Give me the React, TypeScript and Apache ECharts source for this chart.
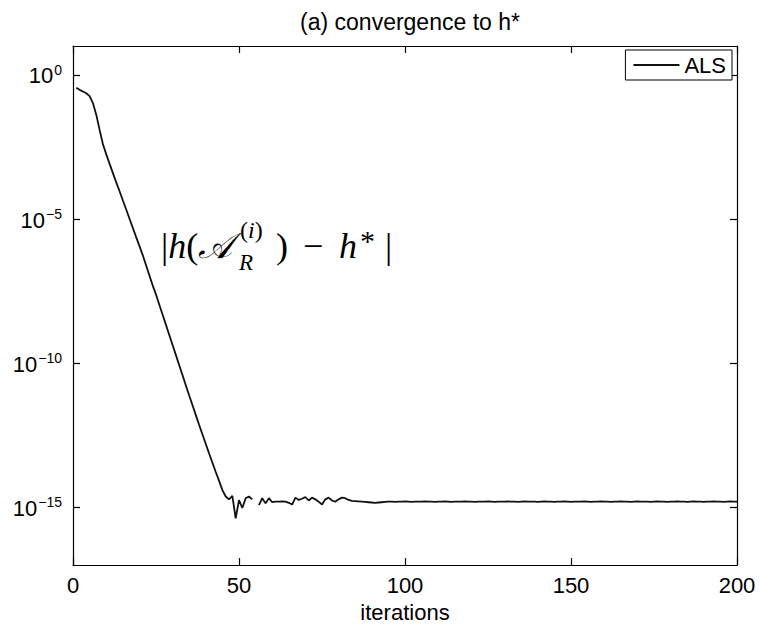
import React, { useEffect, useRef } from "react";
import * as echarts from "echarts";

// ---------- data (log10 of |h(A_R^(i)) - h*|), iteration numbers start at 1 ----------
const firstIteration = 1;
const logErrorHead: (number | null)[] = [
  -0.45, -0.52, -0.58, -0.64, -0.74, -0.98, -1.38, -1.9, -2.4, -2.75,
  -3.08, -3.4, -3.72, -4.03, -4.35, -4.66, -4.98, -5.3, -5.62, -5.93,
  -6.25, -6.6, -6.95, -7.3, -7.62, -7.97, -8.32, -8.67, -9.02, -9.37,
  -9.72, -10.07, -10.42, -10.77, -11.12, -11.46, -11.8, -12.14, -12.47, -12.8,
  -13.13, -13.45, -13.77, -14.08, -14.4, -14.62, -14.72, -14.6, -15.38, -14.75,
  -15.02, -14.68, -14.62, -14.72, null, -14.92, -14.68, -14.86, -14.68, -14.82,
  -14.8, -14.8, -14.79, -14.8, -14.84, -14.9, -14.66, -14.74, -14.7, -14.64,
  -14.76, -14.66, -14.72, -14.8, -14.9, -14.72, -14.66, -14.76, -14.8, -14.72,
  -14.66, -14.68, -14.74, -14.77, -14.78,
];
const logErrorTail: number[] = [
  -14.79, -14.8, -14.81, -14.82, -14.83, -14.84, -14.83, -14.82, -14.81, -14.8,
  -14.8, -14.81, -14.8, -14.8, -14.79, -14.8, -14.81, -14.8, -14.8, -14.8,
  -14.79, -14.8, -14.8, -14.81, -14.8, -14.8, -14.79, -14.8, -14.81, -14.8,
  -14.8, -14.8, -14.79, -14.8, -14.8, -14.81, -14.8, -14.8, -14.8, -14.79,
  -14.8, -14.81, -14.8, -14.8, -14.8, -14.79, -14.8, -14.8, -14.81, -14.8,
  -14.79, -14.8, -14.8, -14.8, -14.81, -14.8, -14.79, -14.8, -14.8, -14.81,
  -14.8, -14.8, -14.79, -14.8, -14.81, -14.8, -14.8, -14.8, -14.79, -14.8,
  -14.81, -14.8, -14.8, -14.79, -14.8, -14.8, -14.81, -14.8, -14.8, -14.79,
  -14.8, -14.8, -14.81, -14.8, -14.79, -14.8, -14.8, -14.8, -14.81, -14.8,
  -14.79, -14.8, -14.8, -14.81, -14.8, -14.8, -14.79, -14.8, -14.8, -14.81,
  -14.8, -14.79, -14.8, -14.8, -14.81, -14.8, -14.8, -14.79, -14.8, -14.8,
  -14.81, -14.8, -14.79, -14.8, -14.8,
];
const xTicks = [0, 50, 100, 150, 200];
const yTickExponents = [-15, -10, -5, 0];
const xRange = [0, 200];
const yRange = [-17, 1];
const seriesName = "ALS";
const chartTitle = "(a) convergence to h*";
const xAxisName = "iterations";

const SANS = '"Liberation Sans", Arial, Helvetica, sans-serif';
const SERIF = '"Liberation Serif", "DejaVu Serif", serif';

export default function App() {
  const ref = useRef<HTMLDivElement>(null);

  useEffect(() => {
    if (!ref.current) return;
    const chart = echarts.init(ref.current, undefined, { renderer: "svg" });
    const logError = [...logErrorHead, ...logErrorTail];
    const data = logError.map((v, i) => [i + firstIteration, v === null ? "-" : v]);

    const expLabel = (v: number) =>
      `{b|10}{s|${v < 0 ? "\u2212" + Math.abs(v) : String(v)}}`;

    const axisLineStyle = { color: "#000", width: 1.2 };
    const tickStyle = { color: "#000", width: 1.2 };

    const option: any = {
      animation: false,
      backgroundColor: "#fff",
      title: {
        text: chartTitle,
        left: 405,
        textAlign: "center",
        top: 5,
        textStyle: { fontFamily: SANS, fontSize: 23, fontWeight: "normal", color: "#000" },
      },
      legend: {
        data: [seriesName],
        right: 28,
        top: 50,
        icon: "rect",
        itemWidth: 46,
        itemHeight: 2,
        itemGap: 4,
        padding: [4, 6, 4, 8],
        borderColor: "#000",
        borderWidth: 1,
        borderRadius: 0,
        backgroundColor: "#fff",
        textStyle: { fontFamily: SANS, fontSize: 22, color: "#000", padding: [0, 0, 0, 0] },
      },
      grid: { left: 73, right: 23, top: 46, bottom: 56, containLabel: false },
      xAxis: [
        {
          type: "value",
          min: xRange[0],
          max: xRange[1],
          interval: 50,
          position: "bottom",
          name: xAxisName,
          nameLocation: "middle",
          nameGap: 30,
          nameTextStyle: { fontFamily: SANS, fontSize: 22, color: "#000" },
          axisLine: { show: true, onZero: false, lineStyle: axisLineStyle },
          axisTick: { show: true, inside: true, length: 7, lineStyle: tickStyle, customValues: xTicks },
          axisLabel: { fontFamily: SANS, fontSize: 22, color: "#000", margin: 9, customValues: xTicks },
          splitLine: { show: false },
        },
        {
          type: "value",
          min: xRange[0],
          max: xRange[1],
          interval: 50,
          position: "top",
          axisLine: { show: true, onZero: false, lineStyle: axisLineStyle },
          axisTick: { show: true, inside: true, length: 7, lineStyle: tickStyle, customValues: xTicks },
          axisLabel: { show: false },
          splitLine: { show: false },
        },
      ],
      yAxis: [
        {
          type: "value",
          min: yRange[0],
          max: yRange[1],
          position: "left",
          axisLine: { show: true, onZero: false, lineStyle: axisLineStyle },
          axisTick: { show: true, inside: true, length: 7, lineStyle: tickStyle, customValues: yTickExponents },
          axisLabel: {
            customValues: yTickExponents,
            margin: 11,
            formatter: expLabel,
            rich: {
              b: { fontFamily: SANS, fontSize: 22, color: "#000", lineHeight: 24, padding: [8, 0, 0, 0], verticalAlign: "bottom" },
              s: { fontFamily: SANS, fontSize: 14, color: "#000", lineHeight: 15, verticalAlign: "top", padding: [0, 0, 0, 1] },
            },
          },
          splitLine: { show: false },
        },
        {
          type: "value",
          min: yRange[0],
          max: yRange[1],
          position: "right",
          axisLine: { show: true, onZero: false, lineStyle: axisLineStyle },
          axisTick: { show: true, inside: true, length: 7, lineStyle: tickStyle, customValues: yTickExponents },
          axisLabel: { show: false },
          splitLine: { show: false },
        },
      ],
      series: [
        {
          name: seriesName,
          type: "line",
          xAxisIndex: 0,
          yAxisIndex: 0,
          data,
          symbol: "none",
          showSymbol: false,
          connectNulls: false,
          lineStyle: { color: "#111", width: 1.8 },
          itemStyle: { color: "#111" },
        },
      ],
      graphic: [
        {
          type: "text",
          x: 161,
          y: 246,
          style: {
            text: "{u||}{i|h}{u|(}{c|\uD835\uDC9C}",
            verticalAlign: "middle",
            textVerticalAlign: "middle",
            rich: {
              u: { font: `36px ${SERIF}`, fill: "#000" },
              i: { font: `italic 36px ${SERIF}`, fill: "#000" },
              c: { font: `italic 36px ${SERIF}`, fill: "#000" },
            },
          },
        },
        {
          type: "text",
          x: 240,
          y: 230,
          style: {
            text: "{u|(}{i|i}{u|)}",
            verticalAlign: "middle",
            textVerticalAlign: "middle",
            rich: {
              u: { font: `24px ${SERIF}`, fill: "#000" },
              i: { font: `italic 24px ${SERIF}`, fill: "#000" },
            },
          },
        },
        {
          type: "text",
          x: 239,
          y: 262,
          style: { text: "R", font: `italic 23px ${SERIF}`, fill: "#000", verticalAlign: "middle", textVerticalAlign: "middle" },
        },
        {
          type: "text",
          x: 276,
          y: 246,
          style: { text: ")", font: `36px ${SERIF}`, fill: "#000", verticalAlign: "middle", textVerticalAlign: "middle" },
        },
        {
          type: "text",
          x: 303,
          y: 246,
          style: { text: "\u2212", font: `36px ${SERIF}`, fill: "#000", verticalAlign: "middle", textVerticalAlign: "middle" },
        },
        {
          type: "text",
          x: 339,
          y: 246,
          style: { text: "h", font: `italic 36px ${SERIF}`, fill: "#000", verticalAlign: "middle", textVerticalAlign: "middle" },
        },
        {
          type: "text",
          x: 360,
          y: 240,
          style: { text: "*", font: `30px ${SERIF}`, fill: "#000", verticalAlign: "middle", textVerticalAlign: "middle" },
        },
        {
          type: "text",
          x: 385,
          y: 246,
          style: { text: "|", font: `36px ${SERIF}`, fill: "#000", verticalAlign: "middle", textVerticalAlign: "middle" },
        },
      ],
    };

    chart.setOption(option);
    return () => chart.dispose();
  }, []);

  return (
    <div
      ref={ref}
      style={{ position: "fixed", left: 0, top: 0, width: 760, height: 628, background: "#fff" }}
    />
  );
}
